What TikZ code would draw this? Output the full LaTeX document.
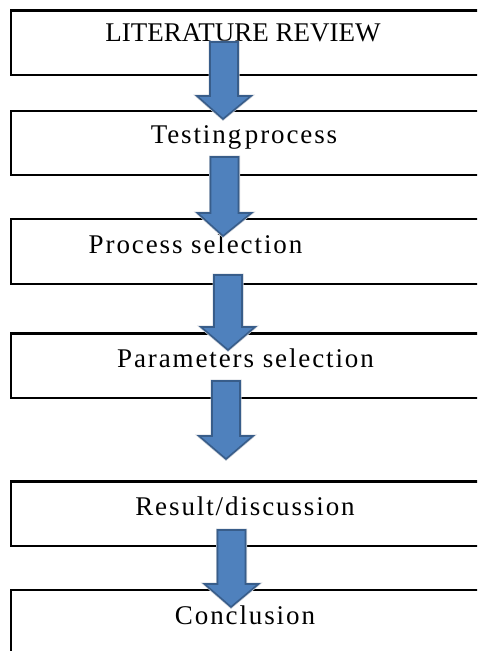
\documentclass[tikz,border=0pt]{standalone}
\usepackage{fontspec}
\setmainfont{Liberation Serif}
\usetikzlibrary{calc}
\definecolor{arrowfill}{HTML}{4F81BD}
\definecolor{arrowedge}{HTML}{385D8A}
\definecolor{arrowglow}{HTML}{C9CED6}
\tikzset{
  stagebox/.style={draw=none, rectangle, anchor=north west, minimum width=520pt, inner sep=0pt},
  boxline/.style={draw=black, line width=2.2pt, line join=miter},
  stagetext/.style={anchor=base, inner sep=0pt, font=\fontsize{27}{30}\selectfont\addfontfeature{LetterSpace=7}},
  glow/.style={draw=arrowglow, line width=3pt, line join=miter},
  blockarrow/.style={fill=arrowfill, draw=arrowedge, line width=1.6pt, line join=miter}
}
% block arrow from top-centre coordinate #1 to tip coordinate #2
\newcommand{\flowarrow}[2]{%
  \foreach \sty in {glow,blockarrow}{%
    \path[\sty] let \p1=(#1), \p2=(#2) in
      (\x1-14pt,\y1) -- (\x1+14pt,\y1) -- (\x1+14pt,\y2+23pt) -- (\x1+27pt,\y2+23pt)
      -- (\x2,\y2) -- (\x1-27pt,\y2+23pt) -- (\x1-14pt,\y2+23pt) -- cycle;
  }%
}
% stage box: the right-hand side runs off the page, so only three sides are drawn
\newcommand{\stageframe}[1]{%
  \draw[boxline] (#1.north east) -- (#1.north west) -- (#1.south west) -- (#1.south east);
}
\begin{document}
\begin{tikzpicture}[x=1pt,y=-1pt]
\useasboundingbox (0,0) rectangle (477,651);
\clip (0,0) rectangle (477,651);
\fill[white] (0,0) rectangle (477,651);

% stage boxes
\node[stagebox, minimum height=64pt] (b1) at (11,10.5) {};
\node[stagebox, minimum height=63.5pt] (b2) at (11,111) {};
\node[stagebox, minimum height=64.5pt] (b3) at (11,219) {};
\node[stagebox, minimum height=64pt] (b4) at (11,333.5) {};
\node[stagebox, minimum height=64pt] (b5) at (11,481.5) {};
\node[stagebox, minimum height=90pt] (b6) at (11,590) {};
\foreach \b in {b1,b2,b3,b4,b5,b6}{\stageframe{\b}}

% stage labels
\node[stagetext, font=\fontsize{27}{30}\selectfont] (t1) at (243,41.5) {LITERATURE REVIEW};
\node[stagetext] (t2) at (244,143) {Testing\kern-5pt{} process};
\node[stagetext] (t3) at (195.5,253) {Process selection};
\node[stagetext] (t4) at (245.5,367) {Parameters selection};
\node[stagetext] (t5) at (245,515) {Result/discussion};
\node[stagetext] (t6) at (245,624) {Conclusion};

% arrow anchors: shaft top and tip
\coordinate (a1s) at (224,42);    \coordinate (a1e) at (223,119);
\coordinate (a2s) at (224.5,157); \coordinate (a2e) at (223,236);
\coordinate (a3s) at (228,275);   \coordinate (a3e) at (228,350);
\coordinate (a4s) at (226,381);   \coordinate (a4e) at (226,459);
\coordinate (a5s) at (231.5,530); \coordinate (a5e) at (231,607);

\flowarrow{a1s}{a1e}
\flowarrow{a2s}{a2e}
\flowarrow{a3s}{a3e}
\flowarrow{a4s}{a4e}
\flowarrow{a5s}{a5e}
\end{tikzpicture}
\end{document}
